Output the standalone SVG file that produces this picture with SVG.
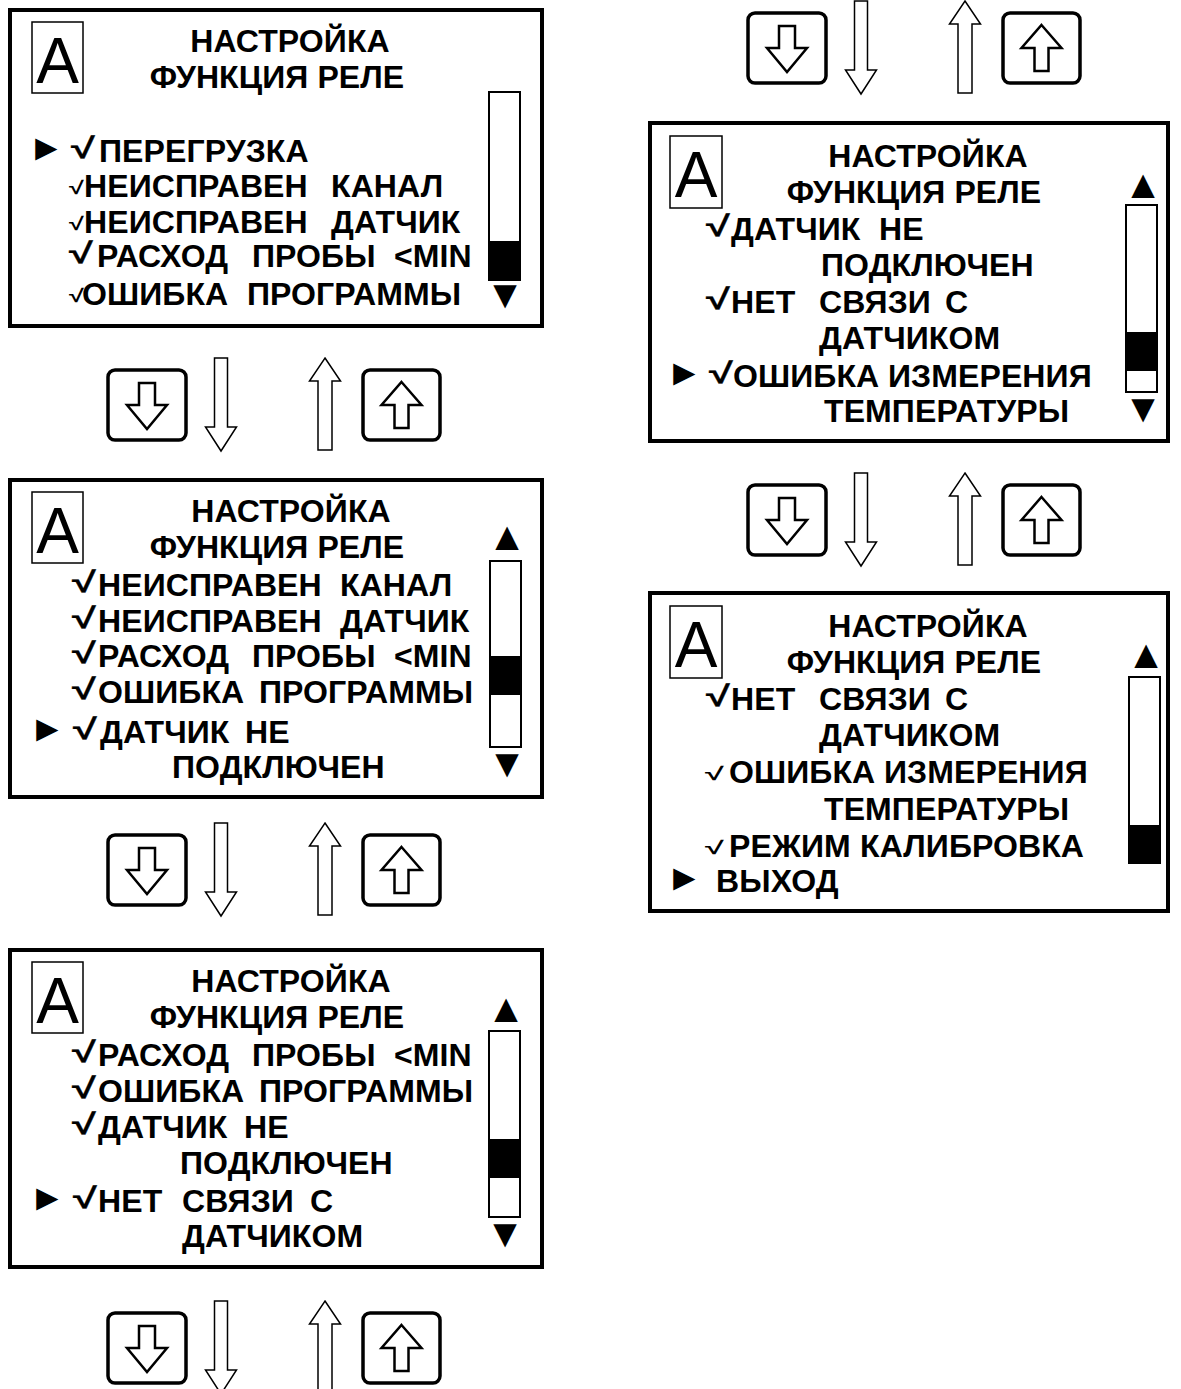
<svg xmlns="http://www.w3.org/2000/svg" xmlns:xlink="http://www.w3.org/1999/xlink" width="1181" height="1389" viewBox="0 0 1181 1389">
<style>
.t{font-family:"Liberation Sans",Arial,sans-serif;font-weight:bold;font-size:32px;letter-spacing:0.1px;fill:#000}
.m{text-anchor:middle}
.cb{font-family:"Liberation Sans",Arial,sans-serif;font-weight:bold;font-size:29px;fill:#000;stroke:#000;stroke-width:0.25}
.cs{font-family:"Liberation Sans",Arial,sans-serif;font-weight:bold;font-size:18px;fill:#000}
.cm{font-family:"Liberation Sans",Arial,sans-serif;font-weight:bold;font-size:18px;fill:#000}
.sym{font-family:"Liberation Sans",Arial,sans-serif;font-size:40px;fill:#000}
.ptr{font-family:"Liberation Sans",Arial,sans-serif;font-size:37px;fill:#000}
.a{font-family:"Liberation Sans",Arial,sans-serif;font-weight:normal;font-size:64px;text-anchor:middle;fill:#000}
.panel{fill:#fff;stroke:#000;stroke-width:4}
.abox{fill:none;stroke:#000;stroke-width:1.5}
.sb{fill:#fff;stroke:#000;stroke-width:2}
.thumb{fill:#000}
.btn{fill:#fff;stroke:#000;stroke-width:3.5}
.ico{fill:#fff;stroke:#000;stroke-width:2.5}
.arr{fill:#fff;stroke:#000;stroke-width:1.5}
</style>
<defs>
<g id="nav">
<rect class="btn" x="0" y="0" width="78" height="70" rx="7"/>
<polygon class="ico" points="31,13 47,13 47,35 59,35 39,59 19,35 31,35"/>
<polygon class="arr" points="106.5,-12 119.5,-12 119.5,57 128.5,57 113,81 97.5,57 106.5,57"/>
<polygon class="arr" points="217,-12 232.5,11 224,11 224,80 210,80 210,11 201.5,11"/>
<rect class="btn" x="255" y="0" width="77" height="70" rx="7"/>
<polygon class="ico" points="293.5,12 313.5,35 300.5,35 300.5,58 286.5,58 286.5,35 273.5,35"/>
</g>
</defs>
<rect width="1181" height="1389" fill="#fff"/>

<g id="connectors">
<use xlink:href="#nav" href="#nav" x="748" y="13"/>
<use xlink:href="#nav" href="#nav" x="108" y="370"/>
<use xlink:href="#nav" href="#nav" x="108" y="835"/>
<use xlink:href="#nav" href="#nav" x="748" y="485"/>
<use xlink:href="#nav" href="#nav" x="108" y="1313"/>
</g>

<g id="panel1">
<rect class="panel" x="10" y="10" width="532" height="316"/>
<rect class="abox" x="32" y="22" width="51" height="71"/>
<text class="a" x="57.5" y="83">A</text>
<text class="t m" x="290" y="52">НАСТРОЙКА</text>
<text class="t m" x="277" y="88">ФУНКЦИЯ РЕЛЕ</text>
<text class="ptr" x="28" y="160">►</text>
<text class="cb" transform="translate(71,158) scale(1.5,1)">√</text>
<text class="t" x="99" y="162">ПЕРЕГРУЗКА</text>
<text class="cs" transform="translate(69,194) scale(1.5,1)">√</text>
<text class="t" y="197"><tspan x="84">НЕИСПРАВЕН </tspan><tspan x="331">КАНАЛ</tspan></text>
<text class="cs" transform="translate(69,230) scale(1.5,1)">√</text>
<text class="t" y="233"><tspan x="84">НЕИСПРАВЕН </tspan><tspan x="331">ДАТЧИК</tspan></text>
<text class="cb" transform="translate(69,263) scale(1.5,1)">√</text>
<text class="t" y="267"><tspan x="97">РАСХОД </tspan><tspan x="252">ПРОБЫ </tspan><tspan x="394">&lt;MIN</tspan></text>
<text class="cs" transform="translate(69,302) scale(1.5,1)">√</text>
<text class="t" y="305"><tspan x="82">ОШИБКА </tspan><tspan x="247">ПРОГРАММЫ</tspan></text>
<rect class="sb" x="489" y="92" width="31" height="188"/>
<rect class="thumb" x="489" y="241" width="31" height="39"/>
<text class="sym m" x="505" y="308">▼</text>
</g>

<g id="panel2">
<rect class="panel" x="10" y="480" width="532" height="317"/>
<rect class="abox" x="32" y="492" width="51" height="71"/>
<text class="a" x="57.5" y="553">A</text>
<text class="t m" x="291" y="522">НАСТРОЙКА</text>
<text class="t m" x="277" y="558">ФУНКЦИЯ РЕЛЕ</text>
<text class="sym m" x="507" y="550">▲</text>
<text class="cb" transform="translate(72,592) scale(1.5,1)">√</text>
<text class="t" y="596"><tspan x="98">НЕИСПРАВЕН </tspan><tspan x="340">КАНАЛ</tspan></text>
<text class="cb" transform="translate(72,628) scale(1.5,1)">√</text>
<text class="t" y="632"><tspan x="98">НЕИСПРАВЕН </tspan><tspan x="340">ДАТЧИК</tspan></text>
<text class="cb" transform="translate(72,663) scale(1.5,1)">√</text>
<text class="t" y="667"><tspan x="98">РАСХОД </tspan><tspan x="252">ПРОБЫ </tspan><tspan x="394">&lt;MIN</tspan></text>
<text class="cb" transform="translate(72,699) scale(1.5,1)">√</text>
<text class="t" y="703"><tspan x="98">ОШИБКА </tspan><tspan x="259">ПРОГРАММЫ</tspan></text>
<text class="ptr" x="29" y="741">►</text>
<text class="cb" transform="translate(73,739) scale(1.5,1)">√</text>
<text class="t" y="743"><tspan x="100">ДАТЧИК </tspan><tspan x="245">НЕ</tspan></text>
<text class="t" x="172" y="778">ПОДКЛЮЧЕН</text>
<rect class="sb" x="490" y="561" width="31" height="186"/>
<rect class="thumb" x="490" y="656" width="31" height="39"/>
<text class="sym m" x="507" y="777">▼</text>
</g>

<g id="panel3">
<rect class="panel" x="10" y="950" width="532" height="317"/>
<rect class="abox" x="32" y="962" width="51" height="71"/>
<text class="a" x="57.5" y="1023">A</text>
<text class="t m" x="291" y="992">НАСТРОЙКА</text>
<text class="t m" x="277" y="1028">ФУНКЦИЯ РЕЛЕ</text>
<text class="sym m" x="506" y="1022">▲</text>
<text class="cb" transform="translate(72,1062) scale(1.5,1)">√</text>
<text class="t" y="1066"><tspan x="98">РАСХОД </tspan><tspan x="252">ПРОБЫ </tspan><tspan x="394">&lt;MIN</tspan></text>
<text class="cb" transform="translate(72,1098) scale(1.5,1)">√</text>
<text class="t" y="1102"><tspan x="98">ОШИБКА </tspan><tspan x="259">ПРОГРАММЫ</tspan></text>
<text class="cb" transform="translate(72,1134) scale(1.5,1)">√</text>
<text class="t" y="1138"><tspan x="98">ДАТЧИК </tspan><tspan x="244">НЕ</tspan></text>
<text class="t" x="180" y="1174">ПОДКЛЮЧЕН</text>
<text class="ptr" x="29" y="1210">►</text>
<text class="cb" transform="translate(73,1208) scale(1.5,1)">√</text>
<text class="t" y="1212"><tspan x="98">НЕТ </tspan><tspan x="182">СВЯЗИ </tspan><tspan x="310">С</tspan></text>
<text class="t" x="182" y="1247">ДАТЧИКОМ</text>
<rect class="sb" x="489" y="1031" width="31" height="186"/>
<rect class="thumb" x="489" y="1139" width="31" height="39"/>
<text class="sym m" x="505" y="1247">▼</text>
</g>

<g id="panel4">
<rect class="panel" x="650" y="123" width="518" height="318"/>
<rect class="abox" x="670" y="136" width="52" height="72"/>
<text class="a" x="696" y="197">A</text>
<text class="t m" x="928" y="167">НАСТРОЙКА</text>
<text class="t m" x="914" y="203">ФУНКЦИЯ РЕЛЕ</text>
<text class="sym m" x="1143" y="198">▲</text>
<text class="cb" transform="translate(706,236) scale(1.5,1)">√</text>
<text class="t" y="240"><tspan x="731">ДАТЧИК </tspan><tspan x="879">НЕ</tspan></text>
<text class="t" x="821" y="276">ПОДКЛЮЧЕН</text>
<text class="cb" transform="translate(706,309) scale(1.5,1)">√</text>
<text class="t" y="313"><tspan x="731">НЕТ </tspan><tspan x="819">СВЯЗИ </tspan><tspan x="945">С</tspan></text>
<text class="t" x="819" y="349">ДАТЧИКОМ</text>
<text class="ptr" x="666" y="385">►</text>
<text class="cb" transform="translate(709,383) scale(1.5,1)">√</text>
<text class="t" y="387"><tspan x="733">ОШИБКА </tspan><tspan x="888">ИЗМЕРЕНИЯ</tspan></text>
<text class="t" x="824" y="422">ТЕМПЕРАТУРЫ</text>
<rect class="sb" x="1126" y="205" width="31" height="187"/>
<rect class="thumb" x="1126" y="332" width="31" height="39"/>
<text class="sym m" x="1143" y="422">▼</text>
</g>

<g id="panel5">
<rect class="panel" x="650" y="593" width="518" height="318"/>
<rect class="abox" x="670" y="606" width="52" height="72"/>
<text class="a" x="696" y="667">A</text>
<text class="t m" x="928" y="637">НАСТРОЙКА</text>
<text class="t m" x="914" y="673">ФУНКЦИЯ РЕЛЕ</text>
<text class="sym m" x="1146" y="668">▲</text>
<text class="cb" transform="translate(706,706) scale(1.5,1)">√</text>
<text class="t" y="710"><tspan x="731">НЕТ </tspan><tspan x="819">СВЯЗИ </tspan><tspan x="945">С</tspan></text>
<text class="t" x="819" y="746">ДАТЧИКОМ</text>
<text class="cm" transform="translate(705,780) scale(1.9,1)">√</text>
<text class="t" y="783"><tspan x="729">ОШИБКА </tspan><tspan x="884">ИЗМЕРЕНИЯ</tspan></text>
<text class="t" x="824" y="820">ТЕМПЕРАТУРЫ</text>
<text class="cm" transform="translate(705,854) scale(1.9,1)">√</text>
<text class="t" y="857"><tspan x="729">РЕЖИМ </tspan><tspan x="860">КАЛИБРОВКА</tspan></text>
<text class="ptr" x="666" y="890">►</text>
<text class="t" x="716" y="892">ВЫХОД</text>
<rect class="sb" x="1129" y="677" width="31" height="186"/>
<rect class="thumb" x="1129" y="825" width="31" height="38"/>
</g>
</svg>
